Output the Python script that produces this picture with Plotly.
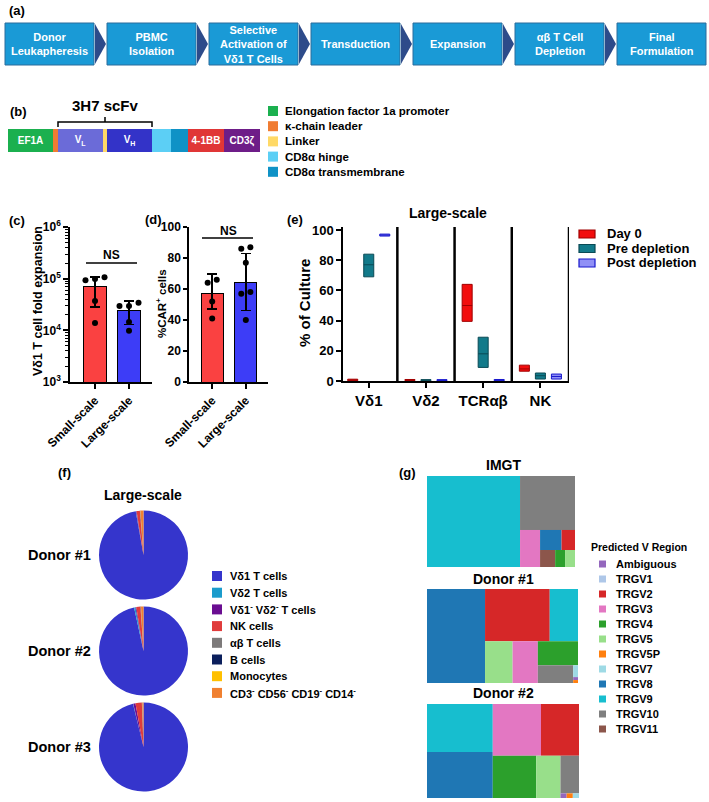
import numpy as np
import plotly.graph_objects as go

W, H = 709, 802
FONT = "Liberation Sans, Arial, Helvetica, sans-serif"

# ---------------- data ----------------
# (a) manufacturing process
process_steps = ["Donor<br>Leukapheresis", "PBMC<br>Isolation",
                 "Selective<br>Activation of<br>Vδ1 T Cells", "Transduction",
                 "Expansion", "αβ T Cell<br>Depletion", "Final<br>Formulation"]

# (b) CAR construct (relative segment lengths)
construct_text = ["EF1A", "", "V<sub>L</sub>", "", "V<sub>H</sub>", "", "", "4-1BB", "CD3ζ"]
construct_size = [45, 5, 45, 4, 45, 19, 17, 36, 36]
construct_color = ["#1bb04f", "#f07c32", "#6b6bd8", "#ffd966", "#3333c8",
                   "#5ccff5", "#0f92c6", "#e03636", "#6e1d88"]
construct_legend = ["Elongation factor 1a promoter", "κ-chain leader", "Linker",
                    "CD8α hinge", "CD8α transmembrane"]
construct_legend_color = ["#1bb04f", "#f07c32", "#ffd966", "#5ccff5", "#0f92c6"]

# (c) fold expansion
scales = ["Small-scale", "Large-scale"]
fold_mean = [69000, 24500]
fold_hi = [107000, 37000]
fold_lo = [28000, 13000]
fold_small = [107000, 98000, 93000, 37000, 13800]
fold_large = [34000, 29500, 29500, 14500, 9800]

# (d) %CAR+ cells
car_mean = [57.4, 64.5]
car_hi = [69.7, 83.0]
car_lo = [47.0, 46.0]
car_small = [66, 64, 52, 41]
car_large = [87, 86, 77, 58, 57, 40]

# (e) composition of culture, large scale (min / median / max)
populations = ["Vδ1", "Vδ2", "TCRαβ", "NK"]
day0_lo = [0.2, 0.3, 39.5, 6.5]
day0_mid = [0.6, 0.6, 50.0, 8.0]
day0_hi = [1.2, 1.0, 64.0, 10.5]
pre_lo = [69.0, 0.2, 9.0, 1.3]
pre_mid = [77.0, 0.5, 18.0, 3.5]
pre_hi = [84.0, 0.9, 29.0, 5.3]
post_lo = [96.0, 0.2, 0.2, 1.3]
post_mid = [96.6, 0.5, 0.5, 3.0]
post_hi = [97.3, 0.9, 1.0, 4.6]

# (f) final product composition per donor (%)
cell_types = ["Vδ1 T cells", "Vδ2 T cells", "Vδ1<sup>-</sup> Vδ2<sup>-</sup> T cells",
              "NK cells", "αβ T cells", "B cells", "Monocytes",
              "CD3<sup>-</sup> CD56<sup>-</sup> CD19<sup>-</sup> CD14<sup>-</sup>"]
cell_colors = ["#3535cc", "#1b9ccc", "#6a0d91", "#e03c3c", "#7d7a7a",
               "#0b1f5c", "#ffc000", "#f08030"]
donor1_cells = [97.2, 0.1, 0.2, 1.2, 0.1, 0.05, 0.05, 1.1]
donor2_cells = [96.8, 0.5, 0.3, 1.5, 0.1, 0.05, 0.05, 0.9]
donor3_cells = [96.3, 0.1, 0.8, 2.3, 0.1, 0.05, 0.05, 0.4]

# (g) predicted TRGV usage (fraction)
v_regions = ["Ambiguous", "TRGV1", "TRGV2", "TRGV3", "TRGV4", "TRGV5", "TRGV5P",
             "TRGV7", "TRGV8", "TRGV9", "TRGV10", "TRGV11"]
v_colors = ["#9467bd", "#aec7e8", "#d62728", "#e377c2", "#2ca02c", "#98df8a",
            "#ff7f0e", "#9edae5", "#1f77b4", "#17becf", "#7f7f7f", "#8c564b"]
imgt_v = [0, 0, 0.020, 0.055, 0.0125, 0.0125, 0, 0, 0.032, 0.628, 0.220, 0.019]
donor1_v = [0.001, 0, 0.238, 0.074, 0.068, 0.081, 0.001, 0.004, 0.384, 0.104, 0.044, 0]
donor2_v = [0.002, 0, 0.138, 0.175, 0.129, 0.072, 0.002, 0.002, 0.212, 0.222, 0.049, 0]


def fx(x):
    return x / W


def fy(y):
    return 1 - y / H


def swarm(vals, to_px, gap=6.0, step=0.28):
    # spread dots that overlap vertically, GraphPad style
    vals = np.asarray(vals, dtype=float)
    order = np.argsort(vals)
    offsets = np.zeros(len(vals))
    clusters, cur = [], [order[0]]
    for i in order[1:]:
        if abs(to_px(vals[i]) - to_px(vals[cur[-1]])) < gap:
            cur.append(i)
        else:
            clusters.append(cur)
            cur = [i]
    clusters.append(cur)
    for c in clusters:
        n = len(c)
        for k, idx in enumerate(c):
            offsets[idx] = (k - (n - 1) / 2) * step
    return offsets


fig = go.Figure()
shapes, annotations = [], []


def text(x, y, s, size=12, color="black", xanchor="center", angle=0, bold=True):
    annotations.append(dict(x=fx(x), y=fy(y), xref="paper", yref="paper", text=s,
                            showarrow=False, xanchor=xanchor, yanchor="middle",
                            textangle=angle,
                            font=dict(family=FONT, size=size, color=color,
                                      weight="bold" if bold else "normal")))


def rect(x0, y0, x1, y1, fill, line=None, lw=0):
    shapes.append(dict(type="rect", xref="paper", yref="paper", x0=fx(x0), x1=fx(x1),
                       y0=fy(y1), y1=fy(y0), fillcolor=fill,
                       line=dict(color=line or fill, width=lw)))


# ---------------- (a) ----------------
text(7, 10, "(a)", 13, xanchor="left")
box_top, box_bot, box_w, pitch = 23, 65, 89, 102
for i, step in enumerate(process_steps):
    x0 = 5 + i * pitch
    rect(x0, box_top, x0 + box_w, box_bot, "#1a9ad6", "#2a6c9c", 1)
    text(x0 + box_w / 2, (box_top + box_bot) / 2, step, 11, "white")
    if i < len(process_steps) - 1:
        ax = x0 + box_w + 1
        path = (f"M {fx(ax)} {fy(box_top + 1)} L {fx(ax + 11)} {fy((box_top + box_bot) / 2)} "
                f"L {fx(ax)} {fy(box_bot - 1)} Z")
        shapes.append(dict(type="path", xref="paper", yref="paper", path=path,
                           fillcolor="#2d4b8a", line=dict(width=0)))

# ---------------- (b) ----------------
text(8, 112, "(b)", 13, xanchor="left")
for t, s, c in zip(construct_text, construct_size, construct_color):
    fig.add_trace(go.Bar(x=[s], y=[0], orientation="h", width=1, marker=dict(color=c, line=dict(width=0)),
                         text=[t] if t else None, textposition="inside", insidetextanchor="middle",
                         textfont=dict(family=FONT, size=10, color="white", weight="bold"),
                         xaxis="x4", yaxis="y4", showlegend=False, hoverinfo="skip"))
cum = np.cumsum([0] + construct_size)
vl0, vh1 = cum[2], cum[5]
mid = (vl0 + vh1) / 2
shapes.append(dict(type="path", xref="x4", yref="paper",
                   path=(f"M {vl0} {fy(127)} L {vl0} {fy(122)} L {vh1} {fy(122)} L {vh1} {fy(127)} "
                         f"M {mid} {fy(122)} L {mid} {fy(117)}"),
                   line=dict(color="black", width=1.5)))
text(105, 106, "3H7 scFv", 15)
for k, (lab, col) in enumerate(zip(construct_legend, construct_legend_color)):
    yy = 111 + k * 15.2
    rect(268, yy - 5, 278, yy + 5, col)
    text(283, yy, lab, 11.5, xanchor="left")

# ---------------- (c) ----------------
text(7, 220, "(c)", 13, xanchor="left")
fm = np.array(fold_mean, float)
fig.add_trace(go.Bar(x=[0, 1], y=fold_mean, width=0.68, xaxis="x", yaxis="y",
                     marker=dict(color=["#fa4141", "#3d3df7"], line=dict(color="black", width=1)),
                     error_y=dict(type="data", symmetric=False, array=np.array(fold_hi) - fm,
                                  arrayminus=fm - np.array(fold_lo), color="black",
                                  thickness=1.5, width=5),
                     showlegend=False))
for gi, vals in enumerate([fold_small, fold_large]):
    off = swarm(vals, lambda v: np.log10(v) * 51.7)
    fig.add_trace(go.Scatter(x=gi + off, y=vals, mode="markers", xaxis="x", yaxis="y",
                             marker=dict(color="black", size=6), showlegend=False))
shapes.append(dict(type="line", xref="paper", yref="paper", x0=fx(86), x1=fx(137),
                   y0=fy(263), y1=fy(263), line=dict(color="black", width=1.5)))
text(111.5, 255, "NS", 12)
text(38, 301, "Vδ1 T cell fold expansion", 12.5, angle=-90)

# ---------------- (d) ----------------
text(143, 219, "(d)", 13, xanchor="left")
cm = np.array(car_mean, float)
fig.add_trace(go.Bar(x=[0, 1], y=car_mean, width=0.65, xaxis="x2", yaxis="y2",
                     marker=dict(color=["#fa4141", "#3d3df7"], line=dict(color="black", width=1)),
                     error_y=dict(type="data", symmetric=False, array=np.array(car_hi) - cm,
                                  arrayminus=cm - np.array(car_lo), color="black",
                                  thickness=1.5, width=5),
                     showlegend=False))
for gi, vals in enumerate([car_small, car_large]):
    off = swarm(vals, lambda v: v * 1.55, step=0.27)
    fig.add_trace(go.Scatter(x=gi + off, y=vals, mode="markers", xaxis="x2", yaxis="y2",
                             marker=dict(color="black", size=6), showlegend=False))
shapes.append(dict(type="line", xref="paper", yref="paper", x0=fx(202), x1=fx(253),
                   y0=fy(238), y1=fy(238), line=dict(color="black", width=1.5)))
text(228, 231, "NS", 12)
text(161, 304, "%CAR<sup>+</sup> cells", 11.5, angle=-90)

# ---------------- (e) ----------------
text(285, 219, "(e)", 13, xanchor="left")
text(448, 213, "Large-scale", 14)
series = [("Day 0", day0_lo, day0_mid, day0_hi, "#f20d0d", "#a00000"),
          ("Pre depletion", pre_lo, pre_mid, pre_hi, "#127a8a", "#0a4a55"),
          ("Post depletion", post_lo, post_mid, post_hi, "rgba(70,70,240,0.6)", "#1818cc")]
for name, lo, md, hi, fill, line in series:
    fig.add_trace(go.Box(x=list(range(len(populations))), q1=lo, median=md, q3=hi,
                         lowerfence=lo, upperfence=hi, name=name, fillcolor=fill,
                         line=dict(color=line, width=1), whiskerwidth=0, boxpoints=False,
                         xaxis="x3", yaxis="y3", showlegend=False))
for sx in [0.5, 1.5, 2.5, 3.5]:
    shapes.append(dict(type="line", xref="x3", yref="y3", x0=sx, x1=sx, y0=0, y1=102,
                       line=dict(color="black", width=2.5)))
text(305, 303, "% of Culture", 15, angle=-90)
for k, (name, lo, md, hi, fill, line) in enumerate(series):
    yy = 234 + k * 14.5
    rect(579, yy - 4, 595, yy + 4, fill, line, 1.2)
    text(605, yy, name, 13, xanchor="left")

# ---------------- (f) ----------------
text(56, 473, "(f)", 13, xanchor="left")
text(143, 495, "Large-scale", 14)
for k, (vals, cy) in enumerate(zip([donor1_cells, donor2_cells, donor3_cells], [555, 651, 747])):
    fig.add_trace(go.Pie(labels=cell_types, values=vals, sort=False, direction="clockwise",
                         marker=dict(colors=cell_colors, line=dict(width=0)),
                         textinfo="none", showlegend=False,
                         domain=dict(x=[fx(99), fx(188)], y=[fy(cy + 44.5), fy(cy - 44.5)])))
    text(93, cy, f"Donor #{k + 1}", 14.5, xanchor="right")
for k, (lab, col) in enumerate(zip(cell_types, cell_colors)):
    yy = 576 + k * 16.7
    rect(212, yy - 5, 222, yy + 5, col)
    text(228, yy, lab, 11, xanchor="left")

# ---------------- (g) ----------------
text(397, 473, "(g)", 13, xanchor="left")
tm_boxes = [("IMGT", imgt_v, 465, 476, 567, 575),
            ("Donor #1", donor1_v, 579, 589, 683, 578),
            ("Donor #2", donor2_v, 693, 704, 798, 579)]
for title, vals, ty, y0, y1, x1 in tm_boxes:
    keep = [i for i, v in enumerate(vals) if v > 0]
    fig.add_trace(go.Treemap(labels=[v_regions[i] for i in keep],
                             parents=[""] * len(keep),
                             values=[vals[i] for i in keep],
                             marker=dict(colors=[v_colors[i] for i in keep], line=dict(width=0),
                                         pad=dict(t=0, l=0, r=0, b=0)),
                             root=dict(color="white"),
                             textinfo="none", sort=True,
                             tiling=dict(packing="squarify", pad=0),
                             pathbar=dict(visible=False),
                             domain=dict(x=[fx(427), fx(x1)], y=[fy(y1), fy(y0)])))
    text(503, ty, title, 14)
text(589, 547, "Predicted V Region", 10.5, xanchor="left")
for k, (lab, col) in enumerate(zip(v_regions, v_colors)):
    yy = 564 + k * 15
    rect(599, yy - 3.5, 606, yy + 3.5, col)
    text(614, yy, lab, 11, xanchor="left")

# ---------------- axes ----------------
def ax(**kw):
    base = dict(showline=True, linecolor="black", linewidth=1.5, ticks="outside", ticklen=5,
                tickwidth=1.5, tickcolor="black", showgrid=False, zeroline=False,
                fixedrange=True, automargin=False,
                tickfont=dict(family=FONT, size=12, color="black", weight="bold"))
    base.update(kw)
    return base


minor_log = [m * 10 ** e for e in (3, 4, 5) for m in range(2, 10)]
fig.update_layout(
    template="none",
    width=W, height=H, margin=dict(l=0, r=0, t=0, b=0, pad=0, autoexpand=False),
    paper_bgcolor="white", plot_bgcolor="white",
    font=dict(family=FONT, color="black"),
    showlegend=False, barmode="stack",
    boxmode="group", boxgap=0.16, boxgroupgap=0.375,
    xaxis=ax(domain=[fx(70), fx(152)], range=[-0.735, 1.676], tickvals=[0, 1],
             ticktext=scales, tickangle=-45, anchor="y"),
    yaxis=ax(domain=[fy(382), fy(227)], type="log", range=[3, 6],
             tickvals=[1e3, 1e4, 1e5, 1e6],
             ticktext=["10<sup>3</sup>", "10<sup>4</sup>", "10<sup>5</sup>", "10<sup>6</sup>"],
             minor=dict(tickvals=minor_log, ticks="outside", ticklen=3, tickwidth=1,
                        tickcolor="black"),
             anchor="x"),
    xaxis2=ax(domain=[fx(189), fx(268)], range=[-0.69, 1.66], tickvals=[0, 1],
              ticktext=scales, tickangle=-45, anchor="y2"),
    yaxis2=ax(domain=[fy(382), fy(227)], range=[0, 100], tickvals=[0, 20, 40, 60, 80, 100],
              anchor="x2", ticklen=4),
    xaxis3=ax(domain=[fx(343), fx(569)], range=[-0.45, 3.5], tickvals=[0, 1, 2, 3],
              ticktext=populations, anchor="y3",
              tickfont=dict(family=FONT, size=15, color="black", weight="bold")),
    yaxis3=ax(domain=[fy(381), fy(227)], range=[0, 102], tickvals=[0, 20, 40, 60, 80, 100],
              anchor="x3",
              tickfont=dict(family=FONT, size=13, color="black", weight="bold")),
    xaxis4=dict(domain=[fx(8), fx(260)], range=[0, float(cum[-1])], visible=False,
                fixedrange=True, automargin=False, anchor="y4"),
    yaxis4=dict(domain=[fy(152), fy(129)], range=[-0.5, 0.5], visible=False,
                fixedrange=True, automargin=False, anchor="x4"),
    shapes=shapes, annotations=annotations,
)

fig.write_html("out.html", config={"displayModeBar": False},
               post_script="document.body.style.margin='0';")
